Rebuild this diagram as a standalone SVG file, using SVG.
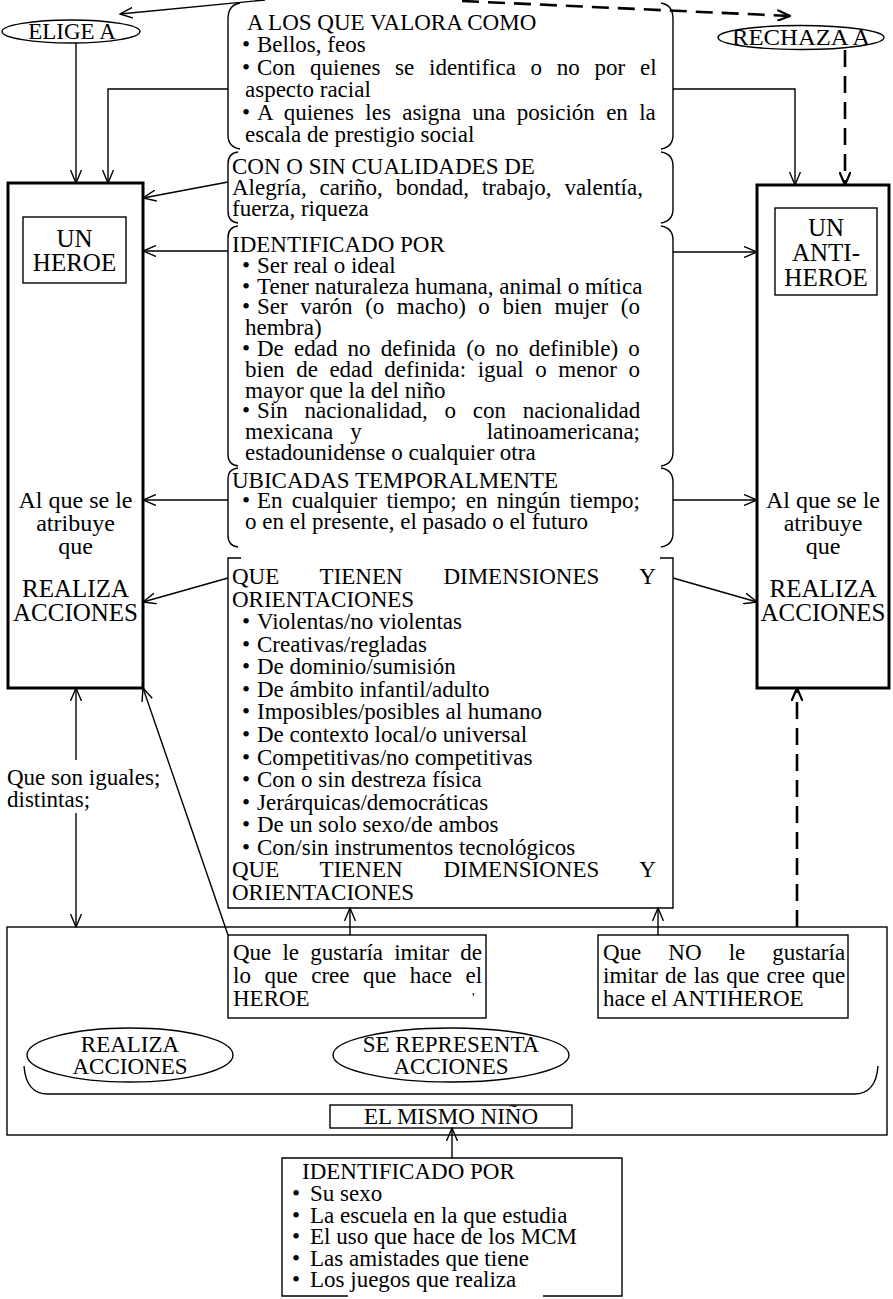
<svg xmlns="http://www.w3.org/2000/svg" width="893" height="1299" viewBox="0 0 893 1299">
<defs>
<style>
.t{font-family:"Liberation Serif","Times New Roman",serif;font-size:23px;fill:#000}
.k{font-size:25px}
.k2{font-size:24px}
.m{text-anchor:middle}
.e{text-anchor:end}
.ln{fill:none;stroke:#000;stroke-width:1.4}
.bb{fill:none;stroke:#000;stroke-width:3}
.ar{fill:none;stroke:#000;stroke-width:1.4;marker-end:url(#ah)}
.da{fill:none;stroke:#000;stroke-width:2.6;stroke-dasharray:17 9;marker-end:url(#ahd)}
</style>
<marker id="ah" viewBox="0 0 14 12" refX="13" refY="6" markerWidth="14" markerHeight="12" markerUnits="userSpaceOnUse" orient="auto"><path d="M0,0.5 L13,6 L0,11.5" fill="none" stroke="#000" stroke-width="1.4"/></marker>
<marker id="ahd" viewBox="0 0 14 12" refX="13" refY="6" markerWidth="14" markerHeight="12" markerUnits="userSpaceOnUse" orient="auto"><path d="M0,0.5 L13,6 L0,11.5" fill="none" stroke="#000" stroke-width="2.2"/></marker>
</defs>
<rect width="893" height="1299" fill="#fff"/>

<g id="connectors">
<path class="ar" d="M265,0 L120,14"/>
<path class="da" d="M462,1 L790,16"/>
<path class="ar" d="M76,43 V183"/>
<path class="ar" d="M228,89 H108 V183"/>
<path class="ar" d="M673,89 H795 V185"/>
<path class="da" d="M845,50 V185"/>
<path class="ar" d="M228,182 L143,198"/>
<path class="ar" d="M228,251 H143"/>
<path class="ar" d="M673,252 H757"/>
<path class="ar" d="M228,500 H143"/>
<path class="ar" d="M673,500 H757"/>
<path class="ar" d="M228,578 L143,602"/>
<path class="ar" d="M673,578 L757,602"/>
<path class="ar" d="M76,760 V688"/>
<path class="ar" d="M76,813 V927"/>
<path class="ar" d="M228,935 L143,688"/>
<path class="da" d="M797,927 V688"/>
<path class="ar" d="M350,935 V908"/>
<path class="ar" d="M658,935 V908"/>
<path class="ar" d="M452,1158 V1128"/>
</g>

<g id="elige">
<ellipse class="ln" cx="71" cy="31.5" rx="69" ry="11.5"/>
<text class="t m" x="72" y="39">ELIGE A</text>
</g>
<g id="rechaza">
<ellipse class="ln" cx="801" cy="37.5" rx="83" ry="12"/>
<text class="t m" x="801" y="45" textLength="138" lengthAdjust="spacingAndGlyphs">RECHAZA A</text>
</g>

<g id="valora">
<path class="ln" d="M240,3 Q228,5 228,19 V135 Q228,147 240,149"/>
<path class="ln" d="M661,3 Q673,5 673,19 V135 Q673,147 661,149"/>
<text class="t" x="247" y="30">A LOS QUE VALORA COMO</text>
<text class="t" x="242" y="52">•</text><text class="t" x="257" y="52">Bellos, feos</text>
<text class="t" x="242" y="74.5">•</text><text class="t" x="257" y="74.5" word-spacing="9">Con quienes se identifica o no por el</text>
<text class="t" x="245" y="97">aspecto racial</text>
<text class="t" x="242" y="119.5">•</text><text class="t" x="257" y="119.5" word-spacing="5.6">A quienes les asigna una posición en la</text>
<text class="t" x="245" y="142">escala de prestigio social</text>
</g>

<g id="cualidades">
<path class="ln" d="M238,152 Q228,153 228,164 V211 Q228,222 238,223"/>
<path class="ln" d="M661,152 Q673,154 673,166 V209 Q673,221 661,223"/>
<text class="t" x="232" y="174">CON O SIN CUALIDADES DE</text>
<text class="t" x="232" y="195" word-spacing="7.1">Alegría, cariño, bondad, trabajo, valentía,</text>
<text class="t" x="232" y="216">fuerza, riqueza</text>
</g>

<g id="identificado">
<path class="ln" d="M238,226 Q228,227 228,238 V454 Q228,465 238,466"/>
<path class="ln" d="M661,226 Q673,228 673,240 V452 Q673,464 661,466"/>
<text class="t" x="232" y="252">IDENTIFICADO POR</text>
<text class="t" x="242" y="272.8">•</text><text class="t" x="257" y="272.8">Ser real o ideal</text>
<text class="t" x="242" y="293.6">•</text><text class="t" x="257" y="293.6">Tener naturaleza humana, animal o mítica</text>
<text class="t" x="242" y="314.4">•</text><text class="t" x="257" y="314.4" word-spacing="6.8">Ser varón (o macho) o bien mujer (o</text>
<text class="t" x="245" y="335.2">hembra)</text>
<text class="t" x="242" y="356">•</text><text class="t" x="257" y="356" word-spacing="4.4">De edad no definida (o no definible) o</text>
<text class="t" x="245" y="376.8" word-spacing="5.8">bien de edad definida: igual o menor o</text>
<text class="t" x="245" y="397.6">mayor que la del niño</text>
<text class="t" x="242" y="418.4">•</text><text class="t" x="257" y="418.4" word-spacing="11">Sin nacionalidad, o con nacionalidad</text>
<text class="t" x="245" y="439.2">mexicana</text><text class="t m" x="356" y="439.2">y</text><text class="t e" x="640" y="439.2">latinoamericana;</text>
<text class="t" x="245" y="460">estadounidense o cualquier otra</text>
</g>

<g id="ubicadas">
<path class="ln" d="M238,468 Q228,469 228,479 V535 Q228,546 238,547"/>
<path class="ln" d="M661,468 Q673,470 673,482 V533 Q673,545 661,547"/>
<text class="t" x="232" y="488">UBICADAS TEMPORALMENTE</text>
<text class="t" x="242" y="508">•</text><text class="t" x="257" y="508" word-spacing="3.4">En cualquier tiempo; en ningún tiempo;</text>
<text class="t" x="245" y="529">o en el presente, el pasado o el futuro</text>
</g>

<g id="dimensiones">
<path class="ln" d="M241,558 H228 V908 H673 V558 H660"/>
<text class="t" x="232" y="584" word-spacing="35">QUE TIENEN DIMENSIONES Y</text>
<text class="t" x="232" y="606.6">ORIENTACIONES</text>
<text class="t" x="242" y="629.1">•</text><text class="t" x="257" y="629.1">Violentas/no violentas</text>
<text class="t" x="242" y="651.7">•</text><text class="t" x="257" y="651.7">Creativas/regladas</text>
<text class="t" x="242" y="674.3">•</text><text class="t" x="257" y="674.3">De dominio/sumisión</text>
<text class="t" x="242" y="696.9">•</text><text class="t" x="257" y="696.9">De ámbito infantil/adulto</text>
<text class="t" x="242" y="719.4">•</text><text class="t" x="257" y="719.4">Imposibles/posibles al humano</text>
<text class="t" x="242" y="742">•</text><text class="t" x="257" y="742">De contexto local/o universal</text>
<text class="t" x="242" y="764.6">•</text><text class="t" x="257" y="764.6">Competitivas/no competitivas</text>
<text class="t" x="242" y="787.1">•</text><text class="t" x="257" y="787.1">Con o sin destreza física</text>
<text class="t" x="242" y="809.7">•</text><text class="t" x="257" y="809.7">Jerárquicas/democráticas</text>
<text class="t" x="242" y="832.3">•</text><text class="t" x="257" y="832.3">De un solo sexo/de ambos</text>
<text class="t" x="242" y="854.9">•</text><text class="t" x="257" y="854.9">Con/sin instrumentos tecnológicos</text>
<text class="t" x="232" y="877.4" word-spacing="35">QUE TIENEN DIMENSIONES Y</text>
<text class="t" x="232" y="900">ORIENTACIONES</text>
</g>

<g id="heroe">
<rect class="bb" x="8" y="183" width="135" height="505"/>
<rect class="ln" x="23" y="217" width="103" height="66"/>
<text class="t k m" x="74.5" y="247">UN</text>
<text class="t k m" x="74.5" y="271">HEROE</text>
<text class="t k2 m" x="75.5" y="508">Al que se le</text>
<text class="t k2 m" x="75.5" y="531">atribuye</text>
<text class="t k2 m" x="75.5" y="554">que</text>
<text class="t k m" x="75.5" y="597">REALIZA</text>
<text class="t k m" x="75.5" y="621">ACCIONES</text>
</g>

<g id="antiheroe">
<rect class="bb" x="757" y="185" width="132" height="503"/>
<rect class="ln" x="775" y="208" width="102" height="87"/>
<text class="t k m" x="826" y="236">UN</text>
<text class="t k m" x="826" y="261">ANTI-</text>
<text class="t k m" x="826" y="286">HEROE</text>
<text class="t k2 m" x="823" y="508">Al que se le</text>
<text class="t k2 m" x="823" y="531">atribuye</text>
<text class="t k2 m" x="823" y="554">que</text>
<text class="t k m" x="823" y="597">REALIZA</text>
<text class="t k m" x="823" y="621">ACCIONES</text>
</g>

<g id="iguales">
<text class="t" x="7" y="785">Que son iguales;</text>
<text class="t" x="7" y="807">distintas;</text>
</g>

<g id="nino">
<rect class="ln" x="7" y="927" width="880" height="208"/>
<path class="ln" d="M24,1066 Q26,1094 48,1094 H854 Q876,1094 878,1066"/>
<rect class="ln" x="330" y="1105" width="242" height="23"/>
<text class="t m" x="451" y="1124">EL MISMO NIÑO</text>
</g>

<g id="realiza">
<ellipse class="ln" cx="130" cy="1055" rx="103" ry="27"/>
<text class="t m" x="130" y="1052">REALIZA</text>
<text class="t m" x="130" y="1074">ACCIONES</text>
</g>
<g id="representa">
<ellipse class="ln" cx="451" cy="1055" rx="118" ry="27"/>
<text class="t m" x="451" y="1052">SE REPRESENTA</text>
<text class="t m" x="451" y="1074">ACCIONES</text>
</g>

<g id="gustaria">
<rect class="ln" x="228" y="935" width="258" height="83"/>
<text class="t" x="233" y="960" word-spacing="5.4">Que le gustaría imitar de</text>
<text class="t" x="233" y="983" word-spacing="7.8">lo que cree que hace el</text>
<text class="t" x="233" y="1006">HEROE</text>
<text class="t" x="472" y="1003" style="font-size:14px">'</text>
</g>

<g id="nogustaria">
<rect class="ln" x="598" y="935" width="250" height="83"/>
<text class="t" x="603" y="960" word-spacing="21.3">Que NO le gustaría</text>
<text class="t" x="603" y="983" word-spacing="1.3">imitar de las que cree que</text>
<text class="t" x="603" y="1006">hace el ANTIHEROE</text>
</g>

<g id="identificado-nino">
<path class="ln" d="M348,1296 H282 V1158 H622 V1296 H543"/>
<text class="t" x="302" y="1179">IDENTIFICADO POR</text>
<text class="t" x="292" y="1201">•</text><text class="t" x="310" y="1201">Su sexo</text>
<text class="t" x="292" y="1222.5">•</text><text class="t" x="310" y="1222.5">La escuela en la que estudia</text>
<text class="t" x="292" y="1244">•</text><text class="t" x="310" y="1244">El uso que hace de los MCM</text>
<text class="t" x="292" y="1265.5">•</text><text class="t" x="310" y="1265.5">Las amistades que tiene</text>
<text class="t" x="292" y="1287">•</text><text class="t" x="310" y="1287">Los juegos que realiza</text>
</g>
</svg>
